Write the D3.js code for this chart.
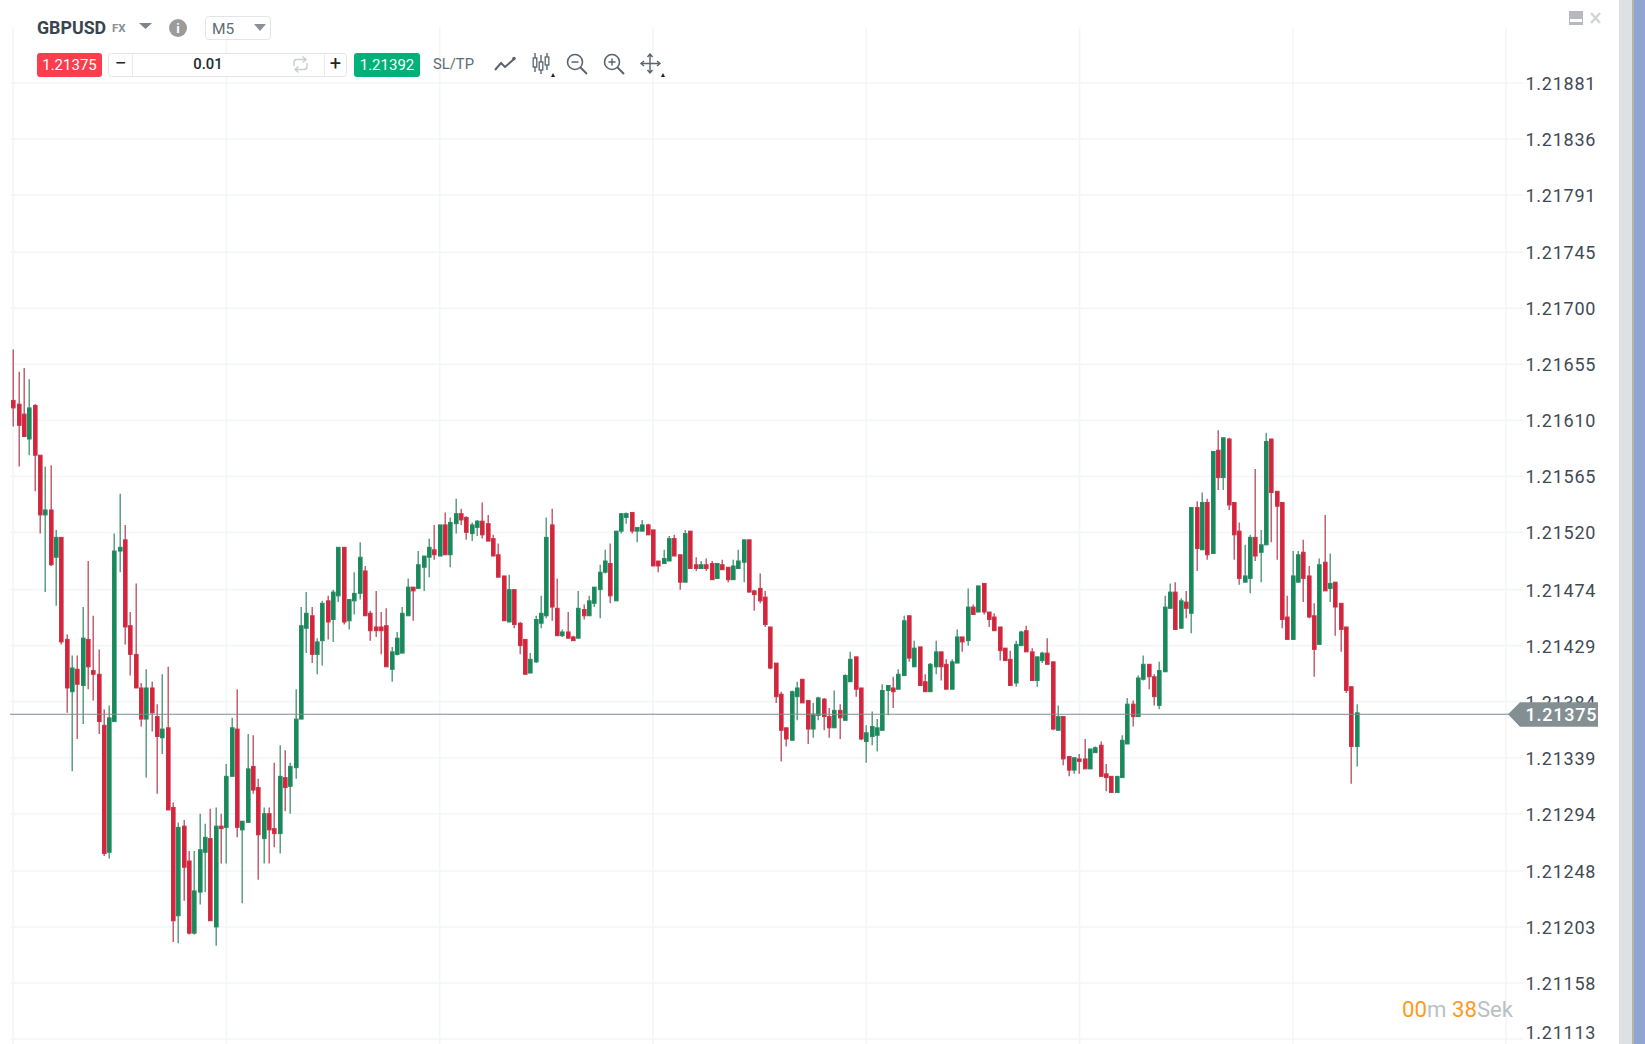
<!DOCTYPE html>
<html>
<head>
<meta charset="utf-8">
<title>GBPUSD M5</title>
<script src="https://cdn.jsdelivr.net/npm/d3@7"></script>
<style>
    html, body { margin: 0; padding: 0; background: #fff; overflow: hidden; }
    text { font-family: Roboto, sans-serif; }
</style>
</head>
<body>
<div id="svg"></div>
<script>
// candles, oldest first
const highs = [
1.21667,1.21649,1.21652,1.21643,1.21623,1.21582,1.21573,1.21574,1.21522,1.21516,
1.21438,1.21421,1.21421,1.21460,1.21497,1.21453,1.21426,1.21378,1.21381,1.21519,
1.21551,1.21526,1.21456,1.21479,1.21399,1.21410,1.21400,1.21382,1.21406,1.21412,
1.21303,1.21287,1.21289,1.21264,1.21264,1.21294,1.21286,1.21298,1.21299,1.21294,
1.21334,1.21371,1.21394,1.21288,1.21358,1.21357,1.21322,1.21299,1.21299,1.21335,
1.21349,1.21345,1.21335,1.21394,1.21460,1.21472,1.21460,1.21435,1.21465,1.21469,
1.21474,1.21508,1.21508,1.21466,1.21488,1.21512,1.21493,1.21457,1.21473,1.21456,
1.21459,1.21428,1.21440,1.21460,1.21483,1.21476,1.21505,1.21501,1.21515,1.21526,
1.21526,1.21536,1.21532,1.21547,1.21539,1.21533,1.21528,1.21530,1.21544,1.21534,
1.21518,1.21511,1.21485,1.21486,1.21474,1.21448,1.21434,1.21423,1.21453,1.21469,
1.21532,1.21539,1.21483,1.21442,1.21456,1.21437,1.21473,1.21462,1.21469,1.21476,
1.21494,1.21506,1.21511,1.21521,1.21535,1.21536,1.21536,1.21524,1.21530,1.21527,
1.21522,1.21497,1.21506,1.21517,1.21518,1.21502,1.21522,1.21521,1.21500,1.21497,
1.21499,1.21497,1.21495,1.21498,1.21492,1.21498,1.21506,1.21514,1.21514,1.21474,
1.21487,1.21473,1.21444,1.21415,1.21392,1.21363,1.21393,1.21400,1.21402,1.21385,
1.21383,1.21388,1.21387,1.21379,1.21393,1.21382,1.21406,1.21424,1.21420,1.21395,
1.21365,1.21376,1.21370,1.21398,1.21397,1.21404,1.21410,1.21453,1.21453,1.21433,
1.21428,1.21406,1.21415,1.21433,1.21424,1.21418,1.21418,1.21442,1.21436,1.21475,
1.21462,1.21477,1.21479,1.21456,1.21455,1.21444,1.21427,1.21425,1.21433,1.21441,
1.21445,1.21427,1.21420,1.21424,1.21435,1.21416,1.21381,1.21372,1.21340,1.21339,
1.21342,1.21354,1.21346,1.21348,1.21352,1.21334,1.21324,1.21324,1.21357,1.21387,
1.21385,1.21405,1.21421,1.21414,1.21406,1.21416,1.21469,1.21479,1.21480,1.21467,
1.21473,1.21540,1.21545,1.21552,1.21547,1.21585,1.21602,1.21596,1.21596,1.21544,
1.21528,1.21510,1.21518,1.21571,1.21522,1.21600,1.21595,1.21553,1.21544,1.21469,
1.21505,1.21505,1.21514,1.21493,1.21463,1.21499,1.21534,1.21503,1.21480,1.21463,
1.21444,1.21396,1.21382];

const lows = [
1.21605,1.21573,1.21597,1.21582,1.21553,1.21519,1.21472,1.21493,1.21461,1.21430,
1.21375,1.21328,1.21354,1.21366,1.21394,1.21385,1.21358,1.21260,1.21258,1.21368,
1.21488,1.21430,1.21405,1.21395,1.21364,1.21323,1.21360,1.21310,1.21342,1.21297,
1.21191,1.21190,1.21224,1.21197,1.21197,1.21221,1.21231,1.21208,1.21188,1.21254,
1.21254,1.21324,1.21275,1.21222,1.21287,1.21310,1.21241,1.21254,1.21254,1.21267,
1.21262,1.21296,1.21294,1.21322,1.21370,1.21423,1.21415,1.21406,1.21413,1.21434,
1.21432,1.21464,1.21446,1.21442,1.21454,1.21466,1.21453,1.21433,1.21436,1.21422,
1.21412,1.21400,1.21421,1.21423,1.21453,1.21449,1.21475,1.21473,1.21484,1.21498,
1.21501,1.21502,1.21492,1.21519,1.21526,1.21514,1.21513,1.21517,1.21515,1.21513,
1.21501,1.21484,1.21449,1.21448,1.21443,1.21422,1.21406,1.21407,1.21415,1.21443,
1.21451,1.21449,1.21437,1.21436,1.21435,1.21433,1.21435,1.21450,1.21453,1.21460,
1.21451,1.21487,1.21463,1.21465,1.21519,1.21527,1.21519,1.21512,1.21521,1.21518,
1.21493,1.21488,1.21495,1.21497,1.21501,1.21474,1.21480,1.21491,1.21489,1.21491,
1.21489,1.21482,1.21483,1.21490,1.21480,1.21482,1.21491,1.21480,1.21472,1.21457,
1.21463,1.21444,1.21410,1.21383,1.21336,1.21348,1.21353,1.21369,1.21383,1.21350,
1.21355,1.21369,1.21361,1.21355,1.21363,1.21354,1.21369,1.21400,1.21388,1.21353,
1.21335,1.21349,1.21344,1.21361,1.21373,1.21379,1.21394,1.21405,1.21416,1.21412,
1.21397,1.21392,1.21392,1.21406,1.21401,1.21394,1.21394,1.21415,1.21424,1.21429,
1.21454,1.21456,1.21454,1.21444,1.21441,1.21417,1.21417,1.21397,1.21396,1.21429,
1.21424,1.21401,1.21396,1.21415,1.21414,1.21361,1.21361,1.21333,1.21324,1.21326,
1.21326,1.21330,1.21330,1.21343,1.21324,1.21312,1.21311,1.21311,1.21323,1.21350,
1.21364,1.21372,1.21401,1.21394,1.21381,1.21378,1.21408,1.21459,1.21442,1.21443,
1.21451,1.21439,1.21489,1.21506,1.21498,1.21503,1.21554,1.21554,1.21538,1.21498,
1.21478,1.21480,1.21471,1.21497,1.21480,1.21510,1.21512,1.21498,1.21443,1.21434,
1.21434,1.21480,1.21464,1.21451,1.21404,1.21430,1.21473,1.21464,1.21437,1.21424,
1.21391,1.21318,1.21332];

const opens = [
1.21626,1.21623,1.21615,1.21595,1.21622,1.21582,1.21534,1.21538,1.21500,1.21516,
1.21434,1.21392,1.21410,1.21397,1.21434,1.21409,1.21406,1.21365,1.21263,1.21368,
1.21505,1.21514,1.21445,1.21422,1.21395,1.21370,1.21395,1.21372,1.21355,1.21363,
1.21299,1.21212,1.21284,1.21256,1.21198,1.21231,1.21263,1.21274,1.21203,1.21284,
1.21283,1.21324,1.21362,1.21281,1.21287,1.21332,1.21315,1.21274,1.21294,1.21282,
1.21278,1.21323,1.21316,1.21331,1.21370,1.21443,1.21453,1.21422,1.21433,1.21465,
1.21450,1.21469,1.21508,1.21449,1.21465,1.21471,1.21489,1.21455,1.21444,1.21444,
1.21445,1.21410,1.21422,1.21423,1.21453,1.21476,1.21475,1.21492,1.21500,1.21506,
1.21501,1.21526,1.21502,1.21527,1.21535,1.21532,1.21519,1.21524,1.21529,1.21527,
1.21515,1.21502,1.21485,1.21448,1.21474,1.21447,1.21434,1.21407,1.21416,1.21447,
1.21453,1.21526,1.21459,1.21437,1.21440,1.21436,1.21435,1.21458,1.21453,1.21463,
1.21474,1.21488,1.21495,1.21465,1.21521,1.21532,1.21536,1.21521,1.21521,1.21526,
1.21522,1.21497,1.21495,1.21497,1.21515,1.21502,1.21480,1.21521,1.21494,1.21491,
1.21494,1.21495,1.21483,1.21494,1.21492,1.21482,1.21491,1.21496,1.21514,1.21473,
1.21475,1.21468,1.21444,1.21415,1.21390,1.21363,1.21353,1.21388,1.21402,1.21385,
1.21362,1.21373,1.21386,1.21372,1.21363,1.21377,1.21369,1.21400,1.21420,1.21395,
1.21352,1.21356,1.21357,1.21361,1.21393,1.21395,1.21394,1.21405,1.21453,1.21412,
1.21428,1.21400,1.21392,1.21412,1.21424,1.21414,1.21394,1.21415,1.21436,1.21433,
1.21460,1.21456,1.21479,1.21456,1.21452,1.21444,1.21427,1.21418,1.21399,1.21429,
1.21441,1.21424,1.21401,1.21417,1.21423,1.21416,1.21361,1.21372,1.21340,1.21329,
1.21338,1.21338,1.21330,1.21343,1.21349,1.21326,1.21324,1.21311,1.21323,1.21350,
1.21382,1.21372,1.21402,1.21414,1.21404,1.21381,1.21408,1.21459,1.21472,1.21443,
1.21464,1.21455,1.21540,1.21506,1.21544,1.21503,1.21586,1.21564,1.21595,1.21544,
1.21521,1.21480,1.21483,1.21516,1.21504,1.21510,1.21595,1.21553,1.21544,1.21452,
1.21434,1.21480,1.21504,1.21485,1.21453,1.21430,1.21496,1.21475,1.21480,1.21463,
1.21444,1.21396,1.21348];

const closes = [
1.21620,1.21606,1.21597,1.21620,1.21582,1.21534,1.21538,1.21494,1.21516,1.21432,
1.21395,1.21411,1.21398,1.21435,1.21412,1.21406,1.21368,1.21262,1.21371,1.21505,
1.21508,1.21444,1.21422,1.21395,1.21370,1.21395,1.21375,1.21356,1.21362,1.21297,
1.21208,1.21283,1.21251,1.21198,1.21232,1.21265,1.21275,1.21208,1.21284,1.21282,
1.21324,1.21363,1.21283,1.21288,1.21330,1.21313,1.21277,1.21294,1.21281,1.21278,
1.21324,1.21315,1.21332,1.21370,1.21445,1.21455,1.21422,1.21432,1.21463,1.21448,
1.21472,1.21508,1.21448,1.21466,1.21471,1.21500,1.21453,1.21441,1.21441,1.21441,
1.21412,1.21424,1.21435,1.21455,1.21476,1.21473,1.21494,1.21501,1.21508,1.21502,
1.21526,1.21502,1.21528,1.21535,1.21530,1.21520,1.21526,1.21529,1.21518,1.21513,
1.21501,1.21484,1.21449,1.21474,1.21446,1.21429,1.21406,1.21418,1.21450,1.21455,
1.21516,1.21460,1.21437,1.21440,1.21435,1.21433,1.21459,1.21453,1.21465,1.21476,
1.21488,1.21497,1.21469,1.21521,1.21535,1.21535,1.21521,1.21524,1.21526,1.21518,
1.21493,1.21493,1.21499,1.21515,1.21501,1.21480,1.21519,1.21491,1.21491,1.21494,
1.21491,1.21482,1.21495,1.21490,1.21482,1.21493,1.21497,1.21514,1.21472,1.21470,
1.21465,1.21446,1.21411,1.21388,1.21361,1.21354,1.21392,1.21395,1.21383,1.21362,
1.21374,1.21387,1.21372,1.21363,1.21377,1.21371,1.21405,1.21418,1.21394,1.21354,
1.21359,1.21364,1.21363,1.21393,1.21397,1.21392,1.21406,1.21449,1.21419,1.21427,
1.21397,1.21392,1.21414,1.21424,1.21412,1.21394,1.21416,1.21436,1.21432,1.21460,
1.21454,1.21477,1.21456,1.21450,1.21441,1.21425,1.21417,1.21397,1.21430,1.21440,
1.21424,1.21401,1.21420,1.21423,1.21414,1.21362,1.21372,1.21338,1.21329,1.21339,
1.21336,1.21330,1.21346,1.21347,1.21324,1.21323,1.21311,1.21324,1.21353,1.21382,
1.21372,1.21403,1.21414,1.21404,1.21388,1.21409,1.21460,1.21472,1.21442,1.21465,
1.21459,1.21540,1.21507,1.21544,1.21502,1.21585,1.21564,1.21596,1.21542,1.21518,
1.21483,1.21485,1.21516,1.21501,1.21510,1.21593,1.21552,1.21541,1.21450,1.21434,
1.21485,1.21502,1.21483,1.21452,1.21426,1.21494,1.21473,1.21479,1.21460,1.21442,
1.21393,1.21348,1.21375];

const priceTicks = [1.21881,1.21836,1.21791,1.21745,1.21700,1.21655,1.21610,1.21565,1.21520,
    1.21474,1.21429,1.21384,1.21339,1.21294,1.21248,1.21203,1.21158,1.21113];
const timeGridEvery = 40; // candles between vertical grid lines
const lastBid = 1.21375, lastAsk = 1.21392;

const width = 1645, height = 1044;
const red = "#dc2039", redEdge = "#c5384b", redWick = "#b9475a",
    green = "#138a59", greenEdge = "#2b8a64", greenWick = "#44906f",
    gridColor = "#f3f5f7", inkColor = "#3f4a54", greyText = "#5f6b75";

const x = d3.scaleLinear().domain([0, 280]).range([13.2, 1506]);
const y = d3.scaleLinear().domain([priceTicks[0], priceTicks[priceTicks.length - 1]]).range([83, 1039]);

const svg = d3.select("#svg").append("svg")
    .attr("width", width).attr("height", height)
    .style("display", "block");

// window chrome on the right
svg.append("rect").attr("x", 1619).attr("y", 0).attr("width", 13).attr("height", height).attr("fill", "#dde1e4");
svg.append("rect").attr("x", 1632).attr("y", 0).attr("width", 2).attr("height", height).attr("fill", "#b4b4ae");
svg.append("rect").attr("x", 1634).attr("y", 0).attr("width", 11).attr("height", height).attr("fill", "#8fa6d3");

// grid
svg.append("g").selectAll("line")
    .data(priceTicks).join("line")
    .attr("x1", 10).attr("x2", 1523)
    .attr("y1", d => y(d)).attr("y2", d => y(d))
    .attr("stroke", gridColor).attr("stroke-width", 1.6);

svg.append("g").selectAll("line")
    .data(d3.range(0, 281, timeGridEvery)).join("line")
    .attr("x1", d => x(d)).attr("x2", d => x(d))
    .attr("y1", 27).attr("y2", height)
    .attr("stroke", gridColor).attr("stroke-width", 1.6);

// price axis, the lowest label is pushed up to stay on the page
const yAxis = d3.axisRight(y)
    .tickValues(priceTicks)
    .tickFormat(d3.format(".5f"))
    .tickSize(0)
    .tickPadding(0);

svg.append("g")
    .attr("transform", "translate(1525.5,0.8)")
    .call(yAxis)
    .call(g => g.select(".domain").remove())
    .call(g => g.selectAll("text")
        .attr("fill", inkColor)
        .attr("dy", d => d === priceTicks[priceTicks.length - 1] ? "-0.05em" : "0.32em")
        .style("font-family", "Roboto, sans-serif")
        .style("font-size", "18px")
        .style("letter-spacing", "0.75px"));

// candles
const candles = d3.range(highs.length);
const isUp = i => closes[i] >= opens[i];
const cx = i => Math.round(x(i));

svg.append("g").selectAll("line")
    .data(candles).join("line")
    .attr("x1", i => cx(i) + 0.2).attr("x2", i => cx(i) + 0.2)
    .attr("y1", i => y(highs[i])).attr("y2", i => y(lows[i]))
    .attr("stroke", i => isUp(i) ? greenWick : redWick)
    .attr("stroke-width", 1.3);

svg.append("g").selectAll("rect")
    .data(candles).join("rect")
    .attr("x", i => cx(i) - 1.5)
    .attr("width", 3.6)
    .attr("y", i => y(Math.max(opens[i], closes[i])))
    .attr("height", i => Math.abs(y(opens[i]) - y(closes[i])))
    .attr("fill", i => isUp(i) ? green : red)
    .attr("stroke", i => isUp(i) ? greenEdge : redEdge)
    .attr("stroke-width", 1);

// last price line and tag
const lastY = y(lastBid) + 1.4;
svg.append("line")
    .attr("x1", 10).attr("x2", 1510)
    .attr("y1", lastY).attr("y2", lastY)
    .attr("stroke", "#7f8b91").attr("stroke-width", 1.2);

svg.append("path")
    .attr("d", `M1508,${lastY} L1520,${lastY - 12} H1598 V${lastY + 12.5} H1520 Z`)
    .attr("fill", "#848f93");

svg.append("text")
    .attr("x", 1525.5).attr("y", lastY + 6.5)
    .attr("fill", "#fff").attr("font-size", 18).attr("font-weight", 500)
    .style("letter-spacing", "0.75px")
    .text(d3.format(".5f")(lastBid));

// countdown
const countdown = svg.append("text")
    .attr("x", 1402).attr("y", 1017)
    .attr("font-size", 22.2);
[["00", "#ff9a1e"], ["m ", "#b9bfc3"], ["38", "#ff9a1e"], ["Sek", "#b9bfc3"]].forEach(([t, c]) => {
    countdown.append("tspan").attr("fill", c).attr("xml:space", "preserve").text(t);
});

// toolbar, first row
const bar = svg.append("g");

function label(txt, px, py, size, color, opts = {}) {
    return bar.append("text")
        .attr("x", px).attr("y", py)
        .attr("font-size", size).attr("fill", color)
        .attr("font-weight", opts.weight || 400)
        .attr("text-anchor", opts.anchor || "start")
        .text(txt);
}

function triangle(x0, x1, y0, y1, color) {
    bar.append("path")
        .attr("d", `M${x0},${y0} H${x1} L${(x0 + x1) / 2},${y1} Z`)
        .attr("fill", color);
}

label("GBPUSD", 37, 33.5, 17.8, "#39444f", { weight: 700 });
label("FX", 112, 32, 11.5, "#8a9096", { weight: 700 });
triangle(139, 152, 23, 29, "#7d858b");

bar.append("circle").attr("cx", 178).attr("cy", 28).attr("r", 9).attr("fill", "#9b9b9b");
label("i", 178, 33, 13, "#fff", { weight: 700, anchor: "middle" });

bar.append("rect")
    .attr("x", 205.5).attr("y", 16.5).attr("width", 65).attr("height", 23).attr("rx", 3)
    .attr("fill", "#fff").attr("stroke", "#e2e5e8");
label("M5", 212, 34, 15.5, greyText);
triangle(254, 266, 24, 31, "#8b9196");

// toolbar, second row
bar.append("rect")
    .attr("x", 37).attr("y", 53).attr("width", 65).attr("height", 24).attr("rx", 3)
    .attr("fill", "#fb3d4e");
label(d3.format(".5f")(lastBid), 69.5, 70, 15, "#fff", { anchor: "middle" });

bar.append("rect")
    .attr("x", 108.5).attr("y", 53.5).attr("width", 238).attr("height", 23).attr("rx", 3)
    .attr("fill", "#fff").attr("stroke", "#e2e5e8");
[132.5, 324.5].forEach(sx => {
    bar.append("line").attr("x1", sx).attr("x2", sx).attr("y1", 54).attr("y2", 76).attr("stroke", "#e8eaed");
});
label("\u2212", 120.5, 70, 21, "#222", { anchor: "middle" });
label("0.01", 208, 69, 14.8, "#23282d", { anchor: "middle", weight: 500 });
label("+", 335.5, 70, 20, "#222", { anchor: "middle" });

// swap arrows
bar.append("path")
    .attr("d", "M294,66 V62 Q294,59.5 297,59.5 H305 M302.5,56.5 L306,59.5 L302.5,62.5 M307,63 V67 Q307,69.5 304,69.5 H296 M298.5,66.5 L295,69.5 L298.5,72.5")
    .attr("fill", "none").attr("stroke", "#c9cdd1").attr("stroke-width", 1.4);

bar.append("rect")
    .attr("x", 354).attr("y", 53).attr("width", 66).attr("height", 24).attr("rx", 3)
    .attr("fill", "#00b277");
label(d3.format(".5f")(lastAsk), 387, 70, 15, "#fff", { anchor: "middle" });

label("SL/TP", 433, 69, 14.8, greyText);

const iconColor = "#59646e";

// line chart icon
bar.append("path")
    .attr("d", "M495,70 L501,63 L505,67 L514,59")
    .attr("fill", "none").attr("stroke", iconColor).attr("stroke-width", 2);
bar.append("circle").attr("cx", 514).attr("cy", 58.5).attr("r", 1.8).attr("fill", iconColor);

// candle icon
[[535, 53, 72, 58, 67], [541, 55, 74, 62, 70], [547, 53, 70, 57, 65]].forEach(([ix, a, b, c, d]) => {
    bar.append("line").attr("x1", ix).attr("x2", ix).attr("y1", a).attr("y2", b).attr("stroke", iconColor).attr("stroke-width", 1.4);
    bar.append("rect").attr("x", ix - 1.8).attr("y", c).attr("width", 3.6).attr("height", d - c)
        .attr("fill", "#fff").attr("stroke", iconColor).attr("stroke-width", 1.3);
});
triangle(551, 555, 77, 73, "#222");

// zoom out / zoom in
[[575, false], [612, true]].forEach(([ix, plus]) => {
    bar.append("circle").attr("cx", ix).attr("cy", 62).attr("r", 7.5)
        .attr("fill", "none").attr("stroke", iconColor).attr("stroke-width", 1.6);
    bar.append("line").attr("x1", ix + 5.5).attr("y1", 67.5).attr("x2", ix + 12).attr("y2", 74)
        .attr("stroke", iconColor).attr("stroke-width", 2);
    bar.append("line").attr("x1", ix - 3.5).attr("x2", ix + 3.5).attr("y1", 62).attr("y2", 62)
        .attr("stroke", iconColor).attr("stroke-width", 1.5);
    if (plus) {
        bar.append("line").attr("x1", ix).attr("x2", ix).attr("y1", 58.5).attr("y2", 65.5)
            .attr("stroke", iconColor).attr("stroke-width", 1.5);
    }
});

// move icon
bar.append("path")
    .attr("d", "M650,54 V73 M641,63.5 H660 M647.5,57 L650,54 L652.5,57 M647.5,70 L650,73 L652.5,70 M644,61 L641,63.5 L644,66 M657,61 L660,63.5 L657,66")
    .attr("fill", "none").attr("stroke", iconColor).attr("stroke-width", 1.4);
triangle(661, 665, 77, 73, "#222");

// minimise / close
bar.append("rect").attr("x", 1569).attr("y", 11).attr("width", 14).attr("height", 14).attr("fill", "#b6babe");
bar.append("rect").attr("x", 1570).attr("y", 19).attr("width", 12).attr("height", 3).attr("fill", "#fff");
bar.append("path")
    .attr("d", "M1591,13 L1600,23 M1600,13 L1591,23")
    .attr("stroke", "#d2d5d8").attr("stroke-width", 2.4);
</script>
</body>
</html>
